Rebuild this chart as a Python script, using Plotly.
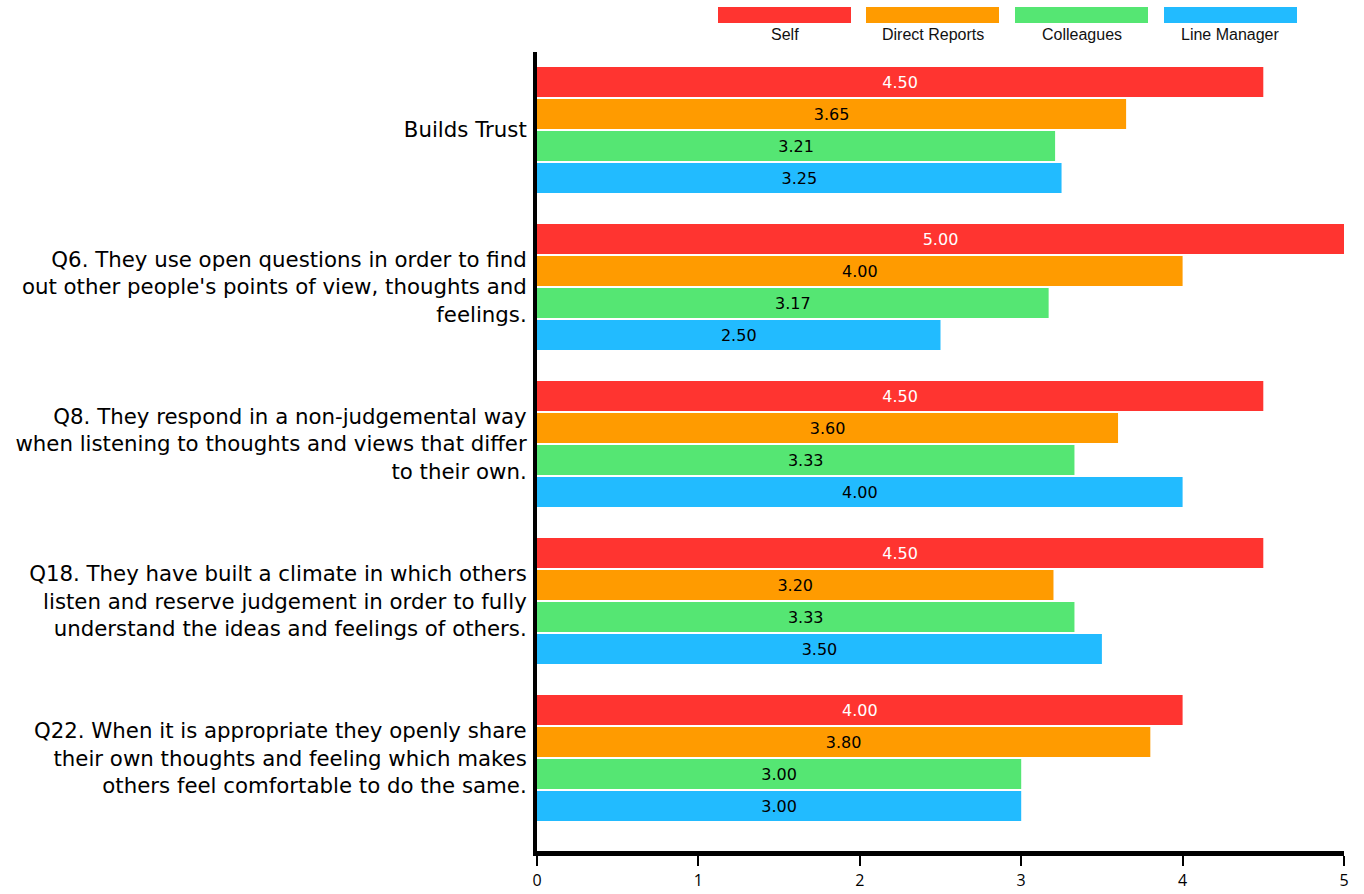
import plotly.graph_objects as go

# Survey results: average rating per question for each respondent group
categories = [
    "Builds Trust",
    "Q6. They use open questions in order to find<br>out other people's points of view, thoughts and<br>feelings.",
    "Q8. They respond in a non-judgemental way<br>when listening to thoughts and views that differ<br>to their own.",
    "Q18. They have built a climate in which others<br>listen and reserve judgement in order to fully<br>understand the ideas and feelings of others.",
    "Q22. When it is appropriate they openly share<br>their own thoughts and feeling which makes<br>others feel comfortable to do the same.",
]
series_names = ["Self", "Direct Reports", "Colleagues", "Line Manager"]
self_scores = [4.50, 5.00, 4.50, 4.50, 4.00]
direct_reports_scores = [3.65, 4.00, 3.60, 3.20, 3.80]
colleagues_scores = [3.21, 3.17, 3.33, 3.33, 3.00]
line_manager_scores = [3.25, 2.50, 4.00, 3.50, 3.00]
x_ticks = [0, 1, 2, 3, 4, 5]

series_values = [self_scores, direct_reports_scores, colleagues_scores, line_manager_scores]
colors = ["#FF3430", "#FF9B00", "#55E673", "#22BBFF"]
text_colors = ["white", "black", "black", "black"]

W, H = 1364, 894
ML, MR, MT, MB = 537, 20, 52, 43
FONT = "'DejaVu Sans', 'Open Sans', sans-serif"

positions = list(range(len(categories)))

fig = go.Figure()
for name, vals, col, tcol in zip(series_names, series_values, colors, text_colors):
    fig.add_trace(go.Bar(
        name=name,
        x=vals,
        y=positions,
        orientation="h",
        marker=dict(color=col, line=dict(width=0)),
        texttemplate="%{x:.2f}",
        textposition="inside",
        insidetextanchor="middle",
        textangle=0,
        constraintext="none",
        textfont=dict(color=tcol, size=16, family=FONT),
        showlegend=False,
        hoverinfo="skip",
    ))


def px_x(p):
    return (p - ML) / (W - ML - MR)


def px_y(p):
    return 1 - (p - MT) / (H - MT - MB)


# Legend: wide colour swatches with the series name beneath
legend_left = [718, 866, 1015, 1164]
legend_w = 133
shapes = []
annotations = []
for name, col, left in zip(series_names, colors, legend_left):
    shapes.append(dict(
        type="rect", xref="paper", yref="paper",
        x0=px_x(left), x1=px_x(left + legend_w),
        y0=px_y(23), y1=px_y(7),
        fillcolor=col, line=dict(width=0),
    ))
    annotations.append(dict(
        xref="paper", yref="paper",
        x=px_x(left + legend_w / 2), y=px_y(34),
        text=name, showarrow=False,
        xanchor="center", yanchor="middle",
        font=dict(family="'Liberation Sans', Arial, sans-serif", size=16, color="#111"),
    ))

fig.update_layout(
    width=W, height=H,
    margin=dict(l=ML, r=MR, t=MT, b=MB, autoexpand=False),
    paper_bgcolor="white",
    plot_bgcolor="white",
    barmode="group",
    bargap=0.185,
    bargroupgap=0.0625,
    shapes=shapes,
    annotations=annotations,
    xaxis=dict(
        range=[0, 5],
        tickvals=x_ticks,
        ticktext=[str(t) for t in x_ticks],
        showgrid=False,
        zeroline=False,
        showline=True,
        linecolor="black",
        linewidth=5,
        ticks="outside",
        ticklen=10,
        tickwidth=2,
        tickcolor="black",
        ticklabelstandoff=1,
        automargin=False,
        tickfont=dict(family="'Open Sans', sans-serif", size=16, color="black"),
    ),
    yaxis=dict(
        range=[4.592, -0.497],
        tickvals=positions,
        ticktext=categories,
        showgrid=False,
        zeroline=False,
        showline=True,
        linecolor="black",
        linewidth=4,
        ticks="",
        ticklabelstandoff=2,
        automargin=False,
        tickfont=dict(family=FONT, size=21.3, color="black"),
    ),
)

fig.write_html("out.html")
